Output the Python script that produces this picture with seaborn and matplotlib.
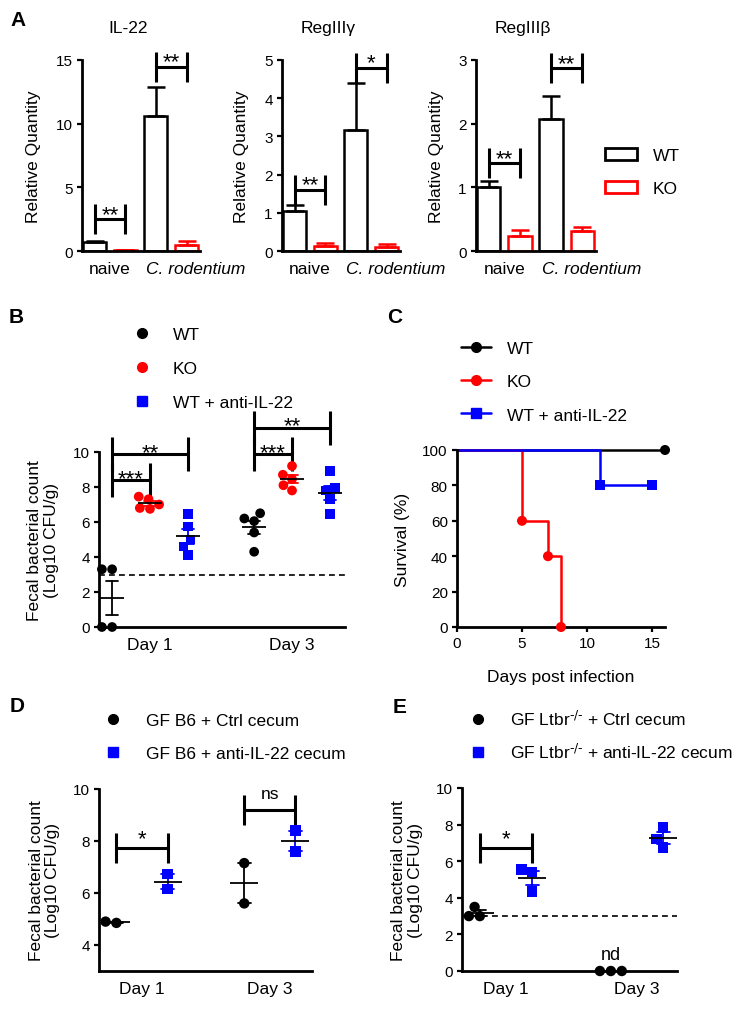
import numpy as np
import pandas as pd
import matplotlib
matplotlib.use("Agg")
import matplotlib.pyplot as plt
import matplotlib.transforms as mtransforms
import seaborn as sns
from matplotlib.lines import Line2D
from matplotlib.patches import Patch

# ======================= DATA =======================
# ---- Panel A: qPCR (mean, SEM) ----
a_titles = ["IL-22", "RegIIIγ", "RegIIIβ"]
a_conditions = ["naive", "C. rodentium"]
a_genotypes = ["WT", "KO"]
il22_wt_mean = [0.72, 10.6]
il22_wt_sem = [0.08, 2.3]
il22_ko_mean = [0.06, 0.45]
il22_ko_sem = [0.03, 0.30]
reg3g_wt_mean = [1.04, 3.17]
reg3g_wt_sem = [0.16, 1.23]
reg3g_ko_mean = [0.12, 0.10]
reg3g_ko_sem = [0.09, 0.08]
reg3b_wt_mean = [1.01, 2.07]
reg3b_wt_sem = [0.09, 0.36]
reg3b_ko_mean = [0.23, 0.31]
reg3b_ko_sem = [0.10, 0.07]
a_sig_y = [[2.5, 14.45], [1.6, 4.79], [1.38, 2.87]]
a_sig_text = [["**", "**"], ["**", "*"], ["**", "**"]]
a_ymax = [15, 5, 3]
a_ystep = [5, 1, 1]

# ---- Panel B: fecal counts ----
b_days = ["Day 1", "Day 3"]
b_groups = ["WT", "KO", "WT + anti-IL-22"]
b_wt_day1 = [3.3, 3.3, 0.0, 0.0]
b_ko_day1 = [7.45, 7.3, 7.0, 6.8, 6.75]
b_anti_day1 = [6.45, 5.75, 5.0, 4.6, 4.1]
b_wt_day3 = [6.5, 6.2, 6.05, 5.4, 4.3]
b_ko_day3 = [9.2, 8.7, 8.45, 8.1, 7.8]
b_anti_day3 = [8.9, 7.95, 7.8, 7.3, 6.45]
b_sig = [("Day 1", "WT", "KO", 8.4, "***"),
         ("Day 1", "WT", "WT + anti-IL-22", 9.9, "**"),
         ("Day 3", "WT", "KO", 9.9, "***"),
         ("Day 3", "WT", "WT + anti-IL-22", 11.4, "**")]
detection_limit = 3

# ---- Panel C: survival ----
c_groups = ["WT", "KO", "WT + anti-IL-22"]
c_wt_days = [0, 16]
c_wt_surv = [100, 100]
c_ko_days = [0, 5, 7, 8]
c_ko_surv = [100, 60, 40, 0]
c_anti_days = [0, 11, 15]
c_anti_surv = [100, 80, 80]

# ---- Panel D ----
d_days = ["Day 1", "Day 3"]
d_groups = ["Ctrl", "anti"]
d_labels = ["GF B6 + Ctrl cecum", "GF B6 + anti-IL-22 cecum"]
d_ctrl_day1 = [4.85, 4.9]
d_anti_day1 = [6.72, 6.15]
d_ctrl_day3 = [7.15, 5.6]
d_anti_day3 = [8.4, 7.6]
d_sig = [("Day 1", "Ctrl", "anti", 7.72, "*"), ("Day 3", "Ctrl", "anti", 9.19, "ns")]

# ---- Panel E ----
e_days = ["Day 1", "Day 3"]
e_groups = ["Ctrl", "anti"]
e_labels = [r"GF Ltbr$^{\text{-/-}}$ + Ctrl cecum",
            r"GF Ltbr$^{\text{-/-}}$ + anti-IL-22 cecum"]
e_ctrl_day1 = [3.5, 3.0, 3.0]
e_anti_day1 = [5.55, 5.4, 4.35]
e_ctrl_day3 = [0.0, 0.0, 0.0]
e_anti_day3 = [7.85, 7.2, 6.75]
e_sig = [("Day 1", "Ctrl", "anti", 6.7, "*")]

# ======================= STYLE =======================
sns.set_style("ticks")
plt.rcParams.update({
    "font.family": ["Liberation Sans", "DejaVu Sans"],
    "mathtext.default": "regular",
    "axes.linewidth": 2.0,
    "axes.edgecolor": "black",
    "text.color": "black",
    "axes.labelcolor": "black",
    "xtick.color": "black",
    "ytick.color": "black",
    "xtick.major.width": 1.6,
    "ytick.major.width": 1.6,
    "xtick.major.size": 3.6,
    "ytick.major.size": 3.6,
})
BLACK, RED, BLUE = "#000000", "#FF0000", "#0000FF"
LAB = 12.5
TICK = 11

W, H = 749, 1012
fig = plt.figure(figsize=(W / 100, H / 100), dpi=100)
fig.patch.set_facecolor("white")


def px_axes(l, t, r, b):
    ax = fig.add_axes([l / W, 1 - b / H, (r - l) / W, (b - t) / H])
    ax.set_facecolor("none")
    sns.despine(ax=ax)
    return ax


def bracket(ax, x1, x2, y, text, center_px, fs=16, capsize=11):
    eb = ax.errorbar((x1 + x2) / 2, y, xerr=(x2 - x1) / 2, fmt="none",
                     ecolor="black", elinewidth=2.2, capsize=capsize, capthick=2.2)
    for a in eb.get_children():
        a.set_clip_on(False)
    em = fs * 100 / 72
    is_star = set(text) == {"*"}
    dy = center_px - (0.32 * em if is_star else 0.0)
    ax.annotate(text, xy=((x1 + x2) / 2, y), xytext=(0, dy * 72 / 100),
                textcoords="offset points", ha="center", va="center",
                fontsize=fs, annotation_clip=False)


def px_legend(handles, labels, x, y, hl, htp, ls, hh=0.7):
    fig.legend(handles, labels, loc="upper left",
               bbox_to_anchor=(x / W, 1 - y / H), bbox_transform=fig.transFigure,
               frameon=False, borderpad=0, borderaxespad=0, fontsize=LAB,
               handlelength=hl, handletextpad=htp, labelspacing=ls,
               handleheight=hh)


def long_df(days, groups, table):
    rows = []
    for d in days:
        for g in groups:
            for v in table[(d, g)]:
                rows.append((d, g, v))
    return pd.DataFrame(rows, columns=["day", "group", "val"])


def dot_panel(ax, df, days, groups, palette, squares, size, mean_ms, cap, stats_df=None):
    n = len(groups)
    span = 0.8 - 0.8 / n
    circ = df[~df["group"].isin(squares)]
    sq = df[df["group"].isin(squares)]
    common = dict(x="day", y="val", hue="group", order=days, hue_order=groups,
                  palette=palette, dodge=True, size=size, linewidth=0,
                  legend=False, ax=ax)
    if len(circ):
        sns.swarmplot(data=circ, marker="o", **common)
    if len(sq):
        sns.swarmplot(data=sq, marker="s", **common)
    sdf = df if stats_df is None else stats_df
    sns.pointplot(data=sdf, x="day", y="val", hue="group", order=days,
                  hue_order=groups, palette=palette, dodge=span, errorbar="se",
                  capsize=cap, markers="none", linestyles="none",
                  err_kws={"linewidth": 1.3}, legend=False, zorder=4, ax=ax)
    sns.pointplot(data=sdf, x="day", y="val", hue="group", order=days,
                  hue_order=groups, palette={g: BLACK for g in groups},
                  dodge=span, errorbar=None, markers="_", linestyles="none",
                  markersize=mean_ms, markeredgewidth=1.3, legend=False,
                  zorder=5, ax=ax)
    for c in ax.collections:
        c.set_clip_on(False)
    for l in ax.lines:
        l.set_clip_on(False)
    offsets = np.linspace(-span / 2, span / 2, n)
    return {(d, g): i + offsets[j] for i, d in enumerate(days) for j, g in enumerate(groups)}


def finish_dot_axes(ax, days, xlim, ylim, yticks, ylabel_x):
    ax.set_xlim(*xlim)
    ax.set_ylim(*ylim)
    ax.set_yticks(yticks)
    ax.set_xlabel("")
    ax.set_ylabel("Fecal bacterial count\n(Log10 CFU/g)", fontsize=LAB, linespacing=1.1)
    ax.yaxis.label.set_va("center")
    ax.yaxis.set_label_coords(ylabel_x, 0.5)
    ax.tick_params(axis="y", labelsize=TICK, pad=3)
    ax.tick_params(axis="x", length=0, labelsize=LAB, pad=7)


# ======================= PANEL A =======================
a_data = [(il22_wt_mean, il22_wt_sem, il22_ko_mean, il22_ko_sem),
          (reg3g_wt_mean, reg3g_wt_sem, reg3g_ko_mean, reg3g_ko_sem),
          (reg3b_wt_mean, reg3b_wt_sem, reg3b_ko_mean, reg3b_ko_sem)]
a_lr = [(82, 200), (282, 400), (476, 596)]
a_ylabel_x = [-0.407, -0.347, -0.333]
a_pal = {"WT": BLACK, "KO": RED}
a_off = {"WT": -0.25, "KO": 0.25}
for k, ((wm, ws, km, ks), (l, r)) in enumerate(zip(a_data, a_lr)):
    ax = px_axes(l, 61, r, 252)
    df = pd.DataFrame({"cond": a_conditions * 2,
                       "geno": ["WT"] * 2 + ["KO"] * 2,
                       "mean": wm + km, "sem": ws + ks})
    sns.barplot(data=df, x="cond", y="mean", hue="geno", order=a_conditions,
                hue_order=a_genotypes, palette=a_pal, fill=False, width=1.0,
                gap=0.25, linewidth=1.8, errorbar=None, legend=False, ax=ax)
    for _, row in df.iterrows():
        x = a_conditions.index(row["cond"]) + a_off[row["geno"]]
        ax.errorbar(x, row["mean"], yerr=[[0], [row["sem"]]], fmt="none",
                    ecolor=a_pal[row["geno"]], elinewidth=1.8, capsize=6.5,
                    capthick=1.8)
    for i, (sy, st) in enumerate(zip(a_sig_y[k], a_sig_text[k])):
        bracket(ax, i + a_off["WT"], i + a_off["KO"], sy, st, center_px=12, fs=16)
    ax.set_xlim(-0.454, 1.47)
    ax.set_ylim(0, a_ymax[k])
    ax.set_yticks(np.arange(0, a_ymax[k] + 0.01, a_ystep[k]))
    ax.set_xlabel("")
    ax.set_ylabel("Relative Quantity", fontsize=LAB)
    ax.yaxis.label.set_va("center")
    ax.yaxis.set_label_coords(a_ylabel_x[k], 0.5)
    ax.tick_params(axis="y", labelsize=TICK, pad=3)
    ax.tick_params(axis="x", length=0, labelsize=LAB, pad=7)
    ax.set_xticks([0, 1])
    ax.set_xticklabels(a_conditions)
    lbl = ax.get_xticklabels()[1]
    lbl.set_fontstyle("italic")
    lbl.set_transform(lbl.get_transform() +
                      mtransforms.ScaledTranslation(0.25, 0, fig.dpi_scale_trans))
    ax.text(0.39, 1.168, a_titles[k], transform=ax.transAxes, ha="center",
            va="center", fontsize=LAB)

px_legend([Patch(facecolor="white", edgecolor=BLACK, linewidth=2),
           Patch(facecolor="white", edgecolor=RED, linewidth=2)],
          a_genotypes, 605, 149, hl=1.84, htp=0.92, ls=1.04, hh=0.69)

# ======================= PANEL B =======================
axB = px_axes(99, 453, 345, 628)
b_table = {("Day 1", "WT"): b_wt_day1, ("Day 1", "KO"): b_ko_day1,
           ("Day 1", "WT + anti-IL-22"): b_anti_day1,
           ("Day 3", "WT"): b_wt_day3, ("Day 3", "KO"): b_ko_day3,
           ("Day 3", "WT + anti-IL-22"): b_anti_day3}
dfB = long_df(b_days, b_groups, b_table)
b_pal = {"WT": BLACK, "KO": RED, "WT + anti-IL-22": BLUE}
posB = dot_panel(axB, dfB, b_days, b_groups, b_pal, ["WT + anti-IL-22"],
                 size=7, mean_ms=17, cap=0.08)
axB.axhline(detection_limit, color="black", lw=1.2, ls=(0, (3.5, 2.5)), zorder=1)
finish_dot_axes(axB, b_days, (-0.359, 1.373), (0, 10), np.arange(0, 11, 2), -0.228)
for d, g1, g2, y, t in b_sig:
    bracket(axB, posB[(d, g1)], posB[(d, g2)], y, t, center_px=8.5, fs=16, capsize=12)
px_legend([Line2D([], [], marker="o", color=BLACK, ls="none", markersize=7),
           Line2D([], [], marker="o", color=RED, ls="none", markersize=7),
           Line2D([], [], marker="s", color=BLUE, ls="none", markersize=7)],
          b_groups, 124.6, 328, hl=2.0, htp=0.79, ls=1.07)

# ======================= PANEL C =======================
axC = px_axes(457, 451, 665, 628)
c_pal = {"WT": BLACK, "KO": RED, "WT + anti-IL-22": BLUE}
dfC = pd.concat([
    pd.DataFrame({"day": c_wt_days, "surv": c_wt_surv, "group": "WT"}),
    pd.DataFrame({"day": c_ko_days, "surv": c_ko_surv, "group": "KO"}),
    pd.DataFrame({"day": c_anti_days, "surv": c_anti_surv, "group": "WT + anti-IL-22"}),
], ignore_index=True)
sns.lineplot(data=dfC, x="day", y="surv", hue="group", hue_order=c_groups,
             palette=c_pal, drawstyle="steps-post", estimator=None,
             linewidth=1.8, legend=False, ax=axC)
sns.scatterplot(data=dfC[dfC["day"] > 0], x="day", y="surv", hue="group",
                style="group", hue_order=c_groups, style_order=c_groups,
                markers={"WT": "o", "KO": "o", "WT + anti-IL-22": "s"},
                palette=c_pal, s=52, linewidth=0, legend=False, zorder=5, ax=axC)
for a in list(axC.lines) + list(axC.collections):
    a.set_clip_on(False)
axC.set_xlim(0, 16)
axC.set_ylim(0, 100)
axC.set_xticks([0, 5, 10, 15])
axC.set_yticks(np.arange(0, 101, 20))
axC.set_xlabel("Days post infection", fontsize=LAB)
axC.set_ylabel("Survival (%)", fontsize=LAB)
axC.yaxis.label.set_va("center")
axC.yaxis.set_label_coords(-0.26, 0.5)
axC.xaxis.label.set_va("center")
axC.xaxis.set_label_coords(0.5, -0.277)
axC.tick_params(axis="both", labelsize=TICK, pad=3)
px_legend([Line2D([], [], marker="o", color=BLACK, lw=1.8, markersize=7),
           Line2D([], [], marker="o", color=RED, lw=1.8, markersize=7),
           Line2D([], [], marker="s", color=BLUE, lw=1.8, markersize=7)],
          c_groups, 461, 342, hl=1.72, htp=0.92, ls=1.04)

# ======================= PANEL D =======================
axD = px_axes(99, 790, 312, 972)
d_table = {("Day 1", "Ctrl"): d_ctrl_day1, ("Day 1", "anti"): d_anti_day1,
           ("Day 3", "Ctrl"): d_ctrl_day3, ("Day 3", "anti"): d_anti_day3}
dfD = long_df(d_days, d_groups, d_table)
de_pal = {"Ctrl": BLACK, "anti": BLUE}
posD = dot_panel(axD, dfD, d_days, d_groups, de_pal, ["anti"], size=7.5,
                 mean_ms=20, cap=0.1)
finish_dot_axes(axD, d_days, (-0.336, 1.33), (3, 10), [4, 6, 8, 10], -0.254)
for d, g1, g2, y, t in d_sig:
    bracket(axD, posD[(d, g1)], posD[(d, g2)], y, t, center_px=16.7,
            fs=16 if t != "ns" else 12.5, capsize=11)
px_legend([Line2D([], [], marker="o", color=BLACK, ls="none", markersize=7),
           Line2D([], [], marker="s", color=BLUE, ls="none", markersize=7)],
          d_labels, 95.6, 714, hl=2.0, htp=0.9, ls=1.04)

# ======================= PANEL E =======================
axE = px_axes(462, 789, 677, 972)
e_table = {("Day 1", "Ctrl"): e_ctrl_day1, ("Day 1", "anti"): e_anti_day1,
           ("Day 3", "Ctrl"): e_ctrl_day3, ("Day 3", "anti"): e_anti_day3}
dfE = long_df(e_days, e_groups, e_table)
statsE = dfE[~((dfE["day"] == "Day 3") & (dfE["group"] == "Ctrl"))]
posE = dot_panel(axE, dfE, e_days, e_groups, de_pal, ["anti"], size=7.5,
                 mean_ms=20, cap=0.1, stats_df=statsE)
axE.axhline(detection_limit, color="black", lw=1.2, ls=(0, (3.5, 2.5)), zorder=1)
finish_dot_axes(axE, e_days, (-0.336, 1.305), (0, 10), np.arange(0, 11, 2), -0.256)
for d, g1, g2, y, t in e_sig:
    bracket(axE, posE[(d, g1)], posE[(d, g2)], y, t, center_px=16.7, fs=16, capsize=11)
axE.annotate("nd", xy=(posE[("Day 3", "Ctrl")], 0), xytext=(0, 12),
             textcoords="offset points", ha="center", va="center", fontsize=13,
             annotation_clip=False)
px_legend([Line2D([], [], marker="o", color=BLACK, ls="none", markersize=7),
           Line2D([], [], marker="s", color=BLUE, ls="none", markersize=7)],
          e_labels, 460.6, 710, hl=2.0, htp=0.85, ls=0.75)

# ======================= PANEL LETTERS =======================
for letter, x, y in [("A", 10, 20), ("B", 9, 318), ("C", 387, 318),
                     ("D", 10, 707), ("E", 393, 708)]:
    fig.text(x / W, 1 - y / H, letter, fontsize=15, fontweight="bold",
             ha="left", va="center")

fig.savefig("out.png", dpi=100, facecolor="white")
